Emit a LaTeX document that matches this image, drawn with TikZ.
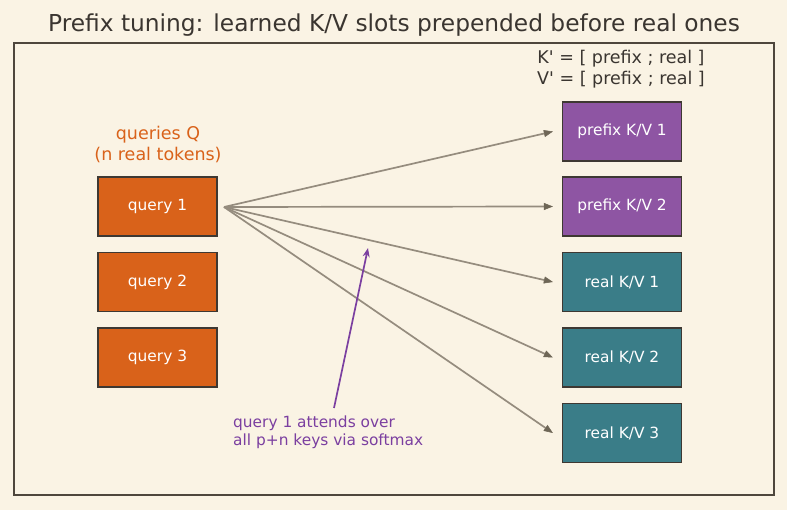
\documentclass[tikz,border=0pt]{standalone}
\usepackage{fontspec}
\setmainfont{DejaVu Sans}
\usetikzlibrary{arrows.meta}
\definecolor{bg}{HTML}{FAF3E4}
\definecolor{frame}{HTML}{4E463C}
\definecolor{qfill}{HTML}{D9621A}
\definecolor{pfill}{HTML}{8E55A3}
\definecolor{rfill}{HTML}{3A7D88}
\definecolor{edge}{HTML}{3E3832}
\definecolor{conn}{HTML}{958C7E}
\definecolor{connhead}{HTML}{6E6656}
\definecolor{annot}{HTML}{7B3FA0}
\definecolor{txt}{HTML}{3A3530}
\tikzset{
  box/.style={draw=edge, line width=1.2pt, minimum width=119pt, minimum height=59pt, inner sep=0pt, text=white, font=\fontsize{15.4}{18}\selectfont},
  qbox/.style={box, fill=qfill},
  pbox/.style={box, fill=pfill},
  rbox/.style={box, fill=rfill},
  conn/.style={draw=conn, line width=1.7pt, -{Triangle[length=9pt,width=7pt,color=connhead,line width=0.5pt]}},
}
\begin{document}
\begin{tikzpicture}[x=1pt,y=-1pt]
\useasboundingbox[fill=bg] (0,0) rectangle (787,510);
\node[text=txt, font=\fontsize{23.3}{27}\selectfont] (title) at (394,25) {Prefix tuning: learned K/V slots prepended before real ones};
\draw[frame, line width=1.3pt] (14,43) rectangle (774,495);
\node[qbox] (q1) at (157.5,206.5) {query 1};
\node[qbox] (q2) at (157.5,282) {query 2};
\node[qbox] (q3) at (157.5,357.5) {query 3};
\node[pbox] (p1) at (622,131.5) {prefix K/V 1};
\node[pbox] (p2) at (622,206.5) {prefix K/V 2};
\node[rbox] (r1) at (622,282) {real K/V 1};
\node[rbox] (r2) at (622,357.5) {real K/V 2};
\node[rbox] (r3) at (622,433) {real K/V 3};
\node[text=qfill, align=center, font=\fontsize{17.5}{21}\selectfont] (ql) at (158,144.5) {queries Q\\(n real tokens)};
\node[text=txt, align=center, font=\fontsize{17.5}{21}\selectfont] (kv) at (621,69.5) {K\textquotesingle{} = [ prefix ; real ]\\V\textquotesingle{} = [ prefix ; real ]};
\coordinate (s) at (224,207);
\draw[conn] (s) -- ([xshift=-9pt]p1.west);
\draw[conn] (s) -- ([xshift=-9pt]p2.west);
\draw[conn] (s) -- ([xshift=-9pt]r1.west);
\draw[conn] (s) -- ([xshift=-9pt]r2.west);
\draw[conn] (s) -- ([xshift=-9pt]r3.west);
\node[text=annot, align=left, anchor=north west, inner sep=0pt, font=\fontsize{15.4}{17.5}\selectfont] (an) at (233,416) {query 1 attends over\\all p+n keys via softmax};
\coordinate (at) at (368,248);
\draw[annot, line width=1.7pt, -{Stealth[length=9pt,width=7pt]}] (334,408) -- (at);
\end{tikzpicture}
\end{document}
